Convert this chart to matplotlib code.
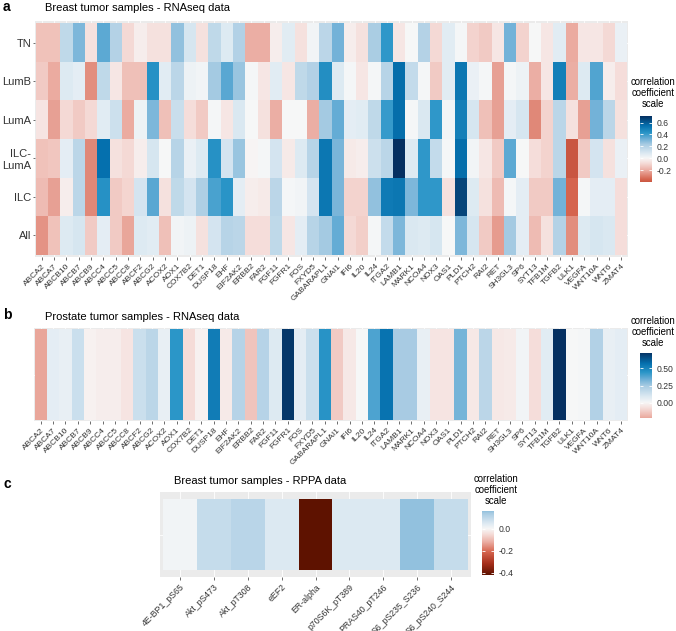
import numpy as np
import matplotlib.pyplot as plt
import matplotlib.colors as mcolors

plt.rcParams['font.family'] = ['Liberation Sans', 'DejaVu Sans']

# ── Data ──────────────────────────────────────────────────────────────────────

GENES = ["ABCA2", "ABCA7", "ABCB10", "ABCB7", "ABCB9", "ABCC4", "ABCC5", "ABCC8",
         "ABCF2", "ABCG2", "ACOX2", "AOX1", "COX7B2", "DET1", "DUSP18", "EHF",
         "EIF2AK2", "ERBB2", "FAR2", "FGF11", "FGFR1", "FOS", "FXYD5", "GABARAPL1",
         "GNAI1", "IFI6", "IL20", "IL24", "ITGA2", "LAMB1", "MARK1", "NCOA4",
         "NOX3", "OAS1", "PLD1", "PTCH2", "RAI2", "RET", "SH3GL3", "SP6",
         "SYT13", "TFB1M", "TGFB2", "ULK1", "VEGFA", "WNT10A", "WNT6", "ZMAT4"]

SUBTYPES = ["TN", "LumB", "LumA", "ILC-\nLumA", "ILC", "All"]

# breast RNAseq, one list per subtype (same order as GENES)
tn = [-0.15, -0.15, 0.17, 0.30, -0.07, 0.35, 0.20, -0.09, -0.03, -0.07, -0.07, 0.27,
      0.10, -0.07, 0.17, 0.08, 0.21, -0.20, -0.20, -0.03, 0.07, -0.07, 0.02, 0.18,
      0.32, -0.03, -0.07, 0.23, 0.42, -0.05, 0.00, 0.20, -0.09, 0.07, 0.01, -0.11,
      -0.13, -0.05, 0.32, -0.11, 0.00, -0.05, 0.07, -0.21, -0.05, -0.05, -0.09, 0.04]
lumb = [-0.13, -0.21, 0.08, 0.06, -0.27, 0.17, -0.05, -0.16, -0.16, 0.44, 0.07, 0.18,
        0.03, 0.02, 0.24, 0.36, 0.26, 0.01, -0.05, 0.07, -0.05, 0.17, 0.21, 0.45,
        0.08, 0.01, -0.05, 0.01, 0.19, 0.56, 0.16, 0.01, -0.13, 0.07, 0.53, 0.04,
        0.01, -0.23, 0.01, 0.03, -0.20, -0.05, 0.50, -0.20, 0.08, 0.37, -0.03, -0.08]
luma = [-0.06, -0.23, -0.09, -0.13, -0.09, 0.07, 0.13, -0.21, 0.03, 0.30, -0.16, 0.14,
        -0.08, -0.13, 0.01, -0.05, 0.09, 0.00, -0.07, -0.20, 0.00, 0.00, -0.20, 0.24,
        0.34, 0.06, 0.07, 0.17, 0.41, 0.56, 0.01, 0.09, 0.42, 0.02, 0.50, 0.10,
        -0.16, -0.23, 0.06, 0.10, -0.28, -0.11, 0.18, -0.07, -0.23, 0.32, 0.18, -0.07]
ilc_luma = [-0.15, -0.14, 0.06, 0.18, -0.28, 0.55, -0.07, -0.09, -0.03, 0.10, 0.00, 0.19,
            0.04, 0.08, 0.44, 0.11, 0.26, -0.01, 0.01, 0.11, -0.04, 0.08, 0.19, 0.53,
            0.31, -0.04, -0.03, 0.13, 0.18, 0.71, 0.08, 0.42, 0.16, 0.01, 0.56, 0.02,
            -0.05, -0.13, 0.35, 0.00, -0.08, -0.11, 0.18, -0.40, -0.13, 0.11, -0.07, 0.04]
ilc = [-0.17, -0.23, -0.03, 0.18, -0.28, 0.44, -0.13, -0.10, 0.11, 0.36, -0.07, 0.17,
       0.11, 0.22, 0.38, 0.43, 0.06, -0.03, -0.04, 0.18, 0.01, 0.02, 0.11, 0.53,
       0.31, -0.11, -0.11, 0.27, 0.52, 0.53, 0.30, 0.42, 0.42, -0.07, 0.66, 0.08,
       -0.07, -0.17, 0.01, 0.06, -0.13, -0.13, 0.32, -0.36, 0.01, 0.06, 0.06, -0.08]
all_samples = [-0.26, -0.15, 0.08, 0.10, -0.13, 0.06, -0.13, -0.22, 0.08, 0.07, -0.16, 0.02,
               0.03, -0.07, 0.11, 0.19, 0.18, -0.08, -0.08, 0.17, -0.05, 0.06, 0.19, 0.24,
               0.34, -0.09, -0.12, 0.01, 0.16, 0.30, 0.09, 0.08, 0.10, 0.00, 0.30, 0.10,
               -0.13, -0.24, 0.24, 0.06, -0.17, -0.07, 0.20, -0.27, 0.08, 0.10, 0.09, -0.08]

# prostate RNAseq (same order as GENES)
prostate = [-0.22, 0.06, 0.05, 0.14, -0.02, -0.03, -0.03, -0.06, 0.14, 0.18, 0.05, 0.43,
            -0.09, -0.02, 0.52, -0.04, 0.20, -0.15, 0.20, 0.08, 0.70, 0.06, 0.14, 0.44,
            -0.13, -0.05, 0.00, 0.38, 0.55, 0.24, 0.24, 0.05, -0.06, -0.06, 0.32, -0.05,
            0.18, -0.05, -0.04, 0.02, -0.08, 0.07, 0.72, 0.00, 0.01, 0.21, 0.05, 0.06]

# breast RPPA
RPPA_LABELS = ["4E-BP1_pS65", "Akt_pS473", "Akt_pT308", "eEF2", "ER-alpha",
               "p70S6K_pT389", "PRAS40_pT246", "S6_pS235_S236", "S6_pS240_S244"]
rppa = [0.01, 0.09, 0.11, 0.05, -0.42, 0.05, 0.05, 0.16, 0.09]

# ── Style ─────────────────────────────────────────────────────────────────────

W, H = 676, 631
TXT = '#333333'

# diverging palette, anchors given on a symmetric -1..1 scale
ANCHORS = [(-1.0, '#5E1200'), (-0.75, '#A8301C'), (-0.5, '#D6654F'),
           (-0.28, '#ECB0A6'), (-0.12, '#F5DCD8'), (0.0, '#F7F7F7'),
           (0.12, '#DCE9F2'), (0.33, '#A9CCE3'), (0.47, '#6AAED6'),
           (0.6, '#2B96C8'), (0.78, '#0570AE'), (1.0, '#053061')]
CMAP = mcolors.LinearSegmentedColormap.from_list(
    'corr', [((f + 1) / 2, c) for f, c in ANCHORS])


def box(x0, y0, x1, y1):
    """pixel box (top-left origin) -> figure fraction rect"""
    return [x0 / W, 1 - y1 / H, (x1 - x0) / W, (y1 - y0) / H]


def fx(x):
    return x / W


def fy(y):
    return 1 - y / H


def heat_panel(ax, data, xlabels, ylabels, xpad, ypad, xfs, yfs):
    data = np.asarray(data, dtype=float)
    nrow, ncol = data.shape
    vmax = np.abs(data).max()
    norm = mcolors.Normalize(-vmax, vmax)

    ax.set_facecolor('#EBEBEB')
    ax.set_axisbelow(True)
    ax.pcolormesh(np.arange(ncol + 1) - 0.5, np.arange(nrow + 1) - 0.5, data,
                  cmap=CMAP, norm=norm, zorder=1)
    ax.set_xlim(-0.5 - xpad, ncol - 0.5 + xpad)
    ax.set_ylim(nrow - 0.5 + ypad, -0.5 - ypad)

    ax.set_xticks(range(ncol))
    ax.set_xticklabels(xlabels, rotation=45, ha='right', va='top',
                       rotation_mode='anchor', fontsize=xfs, color=TXT)
    ax.set_yticks(range(nrow))
    ax.set_yticklabels(ylabels, fontsize=yfs, color=TXT, linespacing=1.2)
    ax.tick_params(axis='x', length=2.5, width=0.5, color=TXT, pad=1.5)
    ax.tick_params(axis='y', length=1.8, width=0.5, color=TXT, pad=0.8)
    ax.grid(True, color='white', linewidth=0.6)
    for s in ax.spines.values():
        s.set_visible(False)
    return norm, data.min(), data.max()


def colour_bar(cax, norm, lo, hi, ticks, labels, title, title_xy):
    vals = np.linspace(lo, hi, 256)
    cax.imshow(vals[:, None], extent=[0, 1, lo, hi], origin='lower',
               aspect='auto', cmap=CMAP, norm=norm)
    cax.set_xlim(0, 1)
    cax.set_ylim(lo, hi)
    cax.set_xticks([])
    cax.set_yticks(ticks)
    cax.set_yticklabels(labels, fontsize=6.2, color=TXT)
    cax.tick_params(axis='y', direction='in', color='white', width=0.6,
                    length=2, left=True, right=True, labelleft=False,
                    labelright=True, pad=3)
    for s in cax.spines.values():
        s.set_visible(False)
    fig.text(fx(title_xy[0]), fy(title_xy[1]), title, ha='center', va='center',
             fontsize=6.9, color='black', linespacing=1.15)


fig = plt.figure(figsize=(W / 100, H / 100), dpi=100)

# ── a: breast RNAseq ──────────────────────────────────────────────────────────
ax_a = fig.add_axes(box(35, 21, 628, 257))
norm_a, lo_a, hi_a = heat_panel(ax_a, [tn, lumb, luma, ilc_luma, ilc, all_samples],
                                GENES, SUBTYPES, 0.05, 0.06, 6, 8)
fig.text(fx(3), fy(7), 'a', fontsize=10, fontweight='bold', va='center')
fig.text(fx(45), fy(8), 'Breast tumor samples - RNAseq data', fontsize=8, va='center')
colour_bar(fig.add_axes(box(640, 116, 652, 182)), norm_a, lo_a, hi_a,
           [0.6, 0.4, 0.2, 0.0, -0.2], ['0.6', '0.4', '0.2', '0.0', '-0.2'],
           'correlation\ncoefficient\nscale', (653, 93))

# ── b: prostate RNAseq ────────────────────────────────────────────────────────
ax_b = fig.add_axes(box(34, 328, 628, 421))
norm_b, lo_b, hi_b = heat_panel(ax_b, [prostate], GENES, [''], 0.05, 0.01, 6, 8)
ax_b.tick_params(axis='y', left=False)
fig.text(fx(3), fy(315), 'b', fontsize=10, fontweight='bold', va='center')
fig.text(fx(45), fy(317), 'Prostate tumor samples - RNAseq data', fontsize=8, va='center')
colour_bar(fig.add_axes(box(640, 353, 652, 418)), norm_b, lo_b, hi_b,
           [0.5, 0.25, 0.0], ['0.50', '0.25', '0.00'],
           'correlation\ncoefficient\nscale', (653, 332))

# ── c: breast RPPA ────────────────────────────────────────────────────────────
ax_c = fig.add_axes(box(160, 492, 471, 577))
norm_c, lo_c, hi_c = heat_panel(ax_c, [rppa], RPPA_LABELS, [''], 0.1, 0.1, 6.3, 8)
ax_c.tick_params(axis='y', left=False)
fig.text(fx(3), fy(484), 'c', fontsize=10, fontweight='bold', va='center')
fig.text(fx(174), fy(481), 'Breast tumor samples - RPPA data', fontsize=8, va='center')
colour_bar(fig.add_axes(box(482, 511, 494, 575)), norm_c, lo_c, hi_c,
           [0.0, -0.2, -0.4], ['0.0', '-0.2', '-0.4'],
           'correlation\ncoefficient\nscale', (496, 490))

fig.savefig('out.png', dpi=100, facecolor='white')
